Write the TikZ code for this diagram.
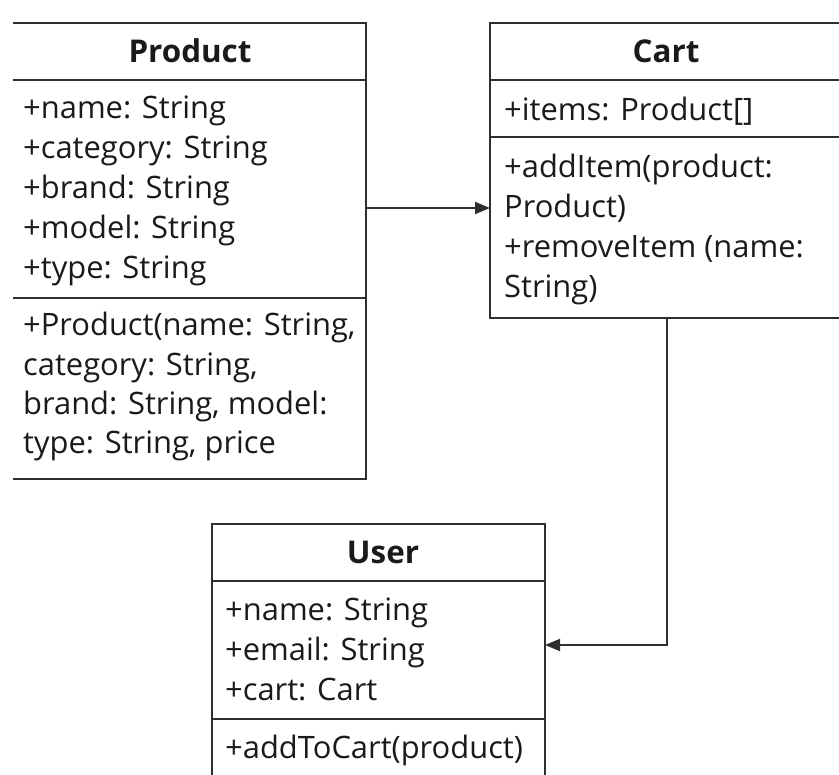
\documentclass[tikz,border=0pt]{standalone}
\usepackage{fontspec}
\setmainfont{Open Sans}
\usetikzlibrary{arrows.meta}
\definecolor{linec}{HTML}{2E2E2E}
\definecolor{txtc}{HTML}{1A1A1A}
\tikzset{
  boxline/.style={draw=linec, line width=1.9bp},
  frame/.style={inner sep=0pt, outer sep=0pt, anchor=north west},
  ttl/.style={font=\fontsize{31.5}{36}\selectfont\bfseries, text=txtc, anchor=base, inner sep=0pt},
  mem/.style={font=\fontsize{31}{40}\selectfont, text=txtc, anchor=base west, inner sep=0pt},
  conn/.style={draw=linec, line width=1.9bp, -{Triangle[length=15bp,width=12bp]}},
}
\begin{document}
\begin{tikzpicture}[x=1bp,y=-1bp]
\useasboundingbox (0,0) rectangle (839,775);
\clip (0,0) rectangle (839,775);
% frames
\node[frame, minimum width=353bp, minimum height=456bp] (product) at (13,23) {};
\node[frame, minimum width=354bp, minimum height=295bp] (cart) at (490,23) {};
\node[frame, minimum width=333bp, minimum height=270bp] (user) at (212,524) {};
% Product box (left edge cut off)
\draw[boxline] (product.north west) -- (product.north east) -- (product.south east) -- (product.south west);
\draw[boxline] (product.north west) ++(0,57) -- ++(353,0);
\draw[boxline] (product.north west) ++(0,275) -- ++(353,0);
% Cart box
\draw[boxline] (cart.north west) rectangle (cart.south east);
\draw[boxline] (cart.north west) ++(0,57) -- ++(354,0);
\draw[boxline] (cart.north west) ++(0,114) -- ++(354,0);
% User box
\draw[boxline] (user.north west) rectangle (user.south east);
\draw[boxline] (user.north west) ++(0,57) -- ++(333,0);
\draw[boxline] (user.north west) ++(0,195) -- ++(333,0);
% Product texts
\node[ttl] (ptitle) at (190,63) {Product};
\foreach \t [count=\i] in {{+name: String},{+category: String},{+brand: String},{+model: String},{+type: String}}
  \node[mem] (pa\i) at (23,{118+40*(\i-1)}) {\t};
\node[mem] (pm1) at (23,335) {+Product(name: String,};
\node[mem] (pm2) at (23,375) {category: String,};
\node[mem] (pm3) at (23,414) {brand: String, model:};
\node[mem] (pm4) at (23,453) {type: String, price};
% Cart texts
\node[ttl] (ctitle) at (666,63) {Cart};
\node[mem] (ca1) at (504,120) {+items: Product[]};
\node[mem] (cm1) at (504,177) {+addItem(product:};
\node[mem] (cm2) at (504,217) {Product)};
\node[mem] (cm3) at (504,257) {+removeItem (name:};
\node[mem] (cm4) at (504,297) {String)};
% User texts
\node[ttl] (utitle) at (383,563) {User};
\node[mem] (ua1) at (225,620) {+name: String};
\node[mem] (ua2) at (225,660) {+email: String};
\node[mem] (ua3) at (225,700) {+cart: Cart};
\node[mem] (um1) at (225,758) {+addToCart(product)};
% connectors
\coordinate (y1) at (0,208);
\coordinate (y2) at (0,645);
\draw[conn] (product.east |- y1) -- (cart.west |- y1);
\draw[conn] (cart.south) |- (user.east |- y2);
\end{tikzpicture}
\end{document}
